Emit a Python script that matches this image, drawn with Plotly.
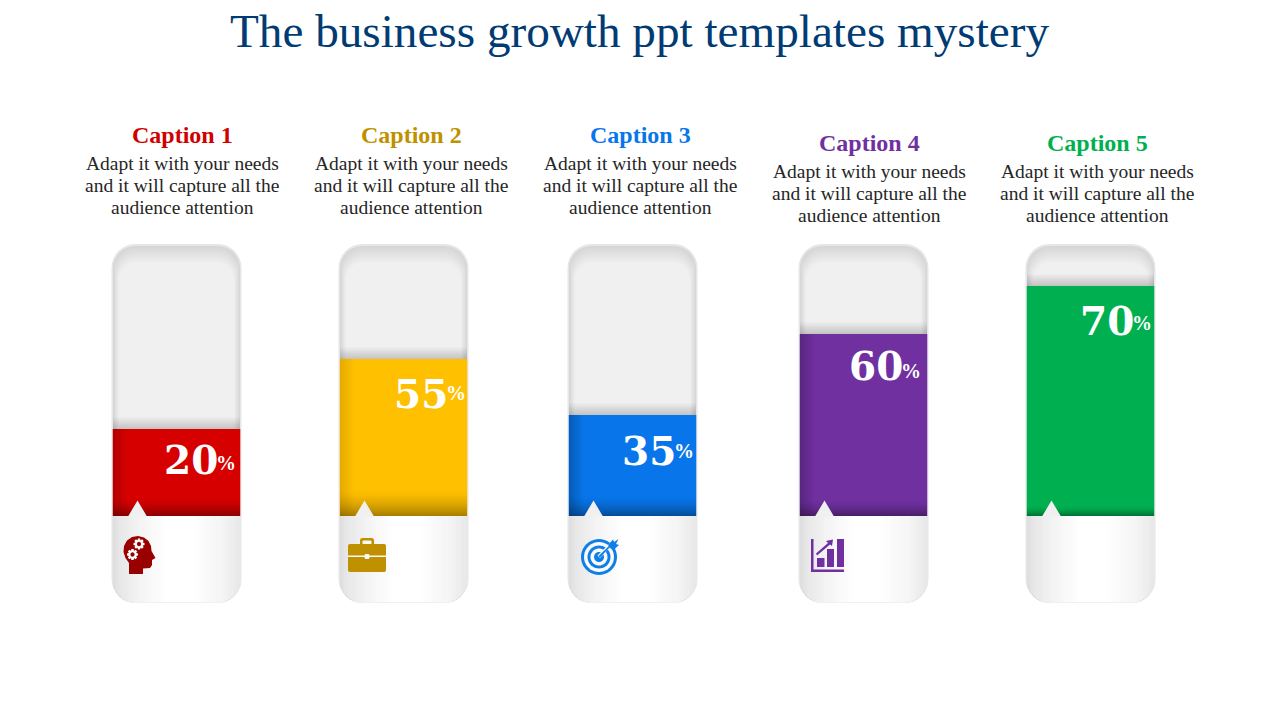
import numpy as np
import plotly.graph_objects as go

TITLE = "The business growth ppt templates mystery"
captions = ["Caption 1", "Caption 2", "Caption 3", "Caption 4", "Caption 5"]
body_lines = ["Adapt it with your needs", "and it will capture all the", "audience attention"]
percent_labels = ["20", "55", "35", "60", "70"]
# fill height of each tube (the drawn levels are not proportional to the labels)
fill_levels = [87, 157, 101, 182, 230]
colors = ["#D60000", "#FFC000", "#0876EA", "#7030A0", "#00B050"]
caption_colors = ["#D00000", "#BF9000", "#0876EA", "#7030A0", "#00B050"]
icon_colors = ["#990000", "#BF9000", "#0F7FE8", "#7030A0"]
tube_centers = [176.5, 403.5, 632.5, 863.5, 1090.5]
text_centers = [182, 411, 640, 869, 1097]
caption_y = [135, 135, 135, 143, 143]
number_right = [217, 447, 675, 902, 1133]
number_y = [460, 394, 451, 366, 321]
percent_y = [463, 393, 451, 371, 323]
left_shade = [0.16, 0.10, 0.22, 0.20, 0.0]
bottom_shade = [18, 26, 20, 16, 10]

BASE = 516
TUBE_W, TUBE_TOP, TUBE_BOT, R = 130, 244, 603, 24
SERIF, NUM = "Liberation Serif", "DejaVu Serif"


def Y(p):
    return BASE - p


def poly(pts):
    return "M " + " L ".join(f"{x:.2f},{Y(y):.2f}" for x, y in pts) + " Z"


def circle(cx, cy, r, n=40):
    a = np.linspace(0, 2 * np.pi, n, endpoint=False)
    return [(cx + r * np.cos(t), cy + r * np.sin(t)) for t in a]


def rrect(x0, y0, x1, y1, r):
    pts = []
    for cx, cy, a0 in [(x1 - r, y0 + r, -90), (x1 - r, y1 - r, 0), (x0 + r, y1 - r, 90), (x0 + r, y0 + r, 180)]:
        for a in np.radians(np.linspace(a0, a0 + 90, 9)):
            pts.append((cx + r * np.cos(a), cy + r * np.sin(a)))
    return pts


shapes = []


def add_path(pts, color, layer="above"):
    shapes.append(dict(type="path", path=poly(pts), fillcolor=color, line_width=0, layer=layer, xref="x", yref="y"))


def add_rect(x0, y0, x1, y1, color, layer="above"):
    shapes.append(dict(type="rect", x0=x0, x1=x1, y0=Y(y0), y1=Y(y1), fillcolor=color, line_width=0,
                       layer=layer, xref="x", yref="y"))


def grey(v):
    v = int(round(v))
    return f"rgb({v},{v},{v})"


def panel_grey(f):
    xs = [0, 0.06, 0.2, 0.42, 0.62, 0.85, 1]
    vs = [222, 232, 243, 255, 255, 245, 232]
    return float(np.interp(f, xs, vs))


def gear(cx, cy, r, color):
    pts = []
    for i in range(8):
        a = i * np.pi / 4
        for da, rr in [(-0.36, r * 0.72), (-0.2, r), (0.2, r), (0.36, r * 0.72)]:
            pts.append((cx + rr * np.cos(a + da), cy + rr * np.sin(a + da)))
    add_path(pts, "#FFFFFF")
    add_path(circle(cx, cy, r * 0.38, 16), color)


def icon_head(c):
    skull = [(129, 574), (129, 563), (125.5, 558), (123.5, 552), (124, 546), (127, 540.5), (132, 537), (138, 536),
             (144, 537.5), (148.5, 541), (151, 546), (151.5, 551), (155.5, 558), (152, 560), (152, 565), (150, 568),
             (143, 568.5), (143, 574)]
    add_path(skull, c)
    gear(139, 544, 5.6, c)
    gear(132.5, 554.5, 5.6, c)


def icon_case(c):
    add_path(rrect(360, 538, 374, 548, 2.5), c)
    add_path(rrect(362.5, 540.5, 371.5, 548, 1), "#F8F8F8")
    add_path(rrect(348, 544, 386, 572, 2), c)
    add_rect(348, 555.5, 386, 557, "#F8F8F8")
    add_path(rrect(364.5, 554, 369.5, 559, 1.5), "#F8F8F8")


def icon_target(c):
    cx, cy = 599, 557
    for r, col in [(18, c), (15, "#FAFAFA"), (11.5, c), (8.5, "#FAFAFA"), (5, c)]:
        add_path(circle(cx, cy, r), col)
    add_path([(597.5, 555.5), (610, 543), (612, 545), (600, 558)], "#FAFAFA")
    add_path([(598.5, 556), (611, 544), (612, 545), (600, 557.5)], c)
    add_path([(608, 545), (613, 539.5), (614, 542), (618.5, 539), (616, 544), (619, 545), (613.5, 550), (610, 548)], c)


def icon_bars(c):
    add_rect(811, 539, 813.5, 572, c)
    add_rect(811, 569.5, 844, 572, c)
    add_rect(817, 558, 824.5, 567, c)
    add_rect(827, 549, 834, 567, c)
    add_rect(837, 539, 844, 567, c)
    add_path([(816, 553.5), (828, 543), (826, 541), (833, 539.5), (832, 546), (830, 544.5), (817, 555.5)], c)


icon_fns = [icon_head, icon_case, icon_target, icon_bars]

for i, cx in enumerate(tube_centers):
    x0, x1 = cx - TUBE_W / 2, cx + TUBE_W / 2
    # tube body: border and inner shadow as nested rounded rectangles
    add_path(rrect(x0, TUBE_TOP, x1, TUBE_BOT, R), "#E6E6E6", "below")
    steps = 14
    for k in range(steps):
        f = k / (steps - 1)
        ins_side = 1.5 + 6 * f
        ins_top = 2 + 17 * f
        add_path(rrect(x0 + ins_side, TUBE_TOP + ins_top, x1 - ins_side, TUBE_BOT, max(R - ins_side, 6)),
                 grey(214 + 26 * f), "below")
    top = BASE - fill_levels[i]
    # soft shadow above the fill
    for k in range(12):
        add_rect(x0 + 1.5, top - 12 + k, x1 - 1.5, top - 11 + k, f"rgba(0,0,0,{0.18 * (k + 1) / 12:.3f})", "below")
    # darkening inside the fill
    if left_shade[i] > 0:
        for k in range(14):
            add_rect(x0 + 1.5 + k, top, x0 + 2.5 + k, BASE, f"rgba(0,0,0,{left_shade[i] * (1 - k / 14):.3f})")
    h = bottom_shade[i]
    for k in range(h):
        a = 0.34 * ((k + 1) / h) ** 1.6
        add_rect(x0 + 1.5, BASE - h + k, x1 - 1.5, BASE - h + 1 + k, f"rgba(0,0,0,{a:.3f})")
    # lower panel with a horizontal gradient and rounded corners
    px0, px1 = x0 + 1.5, x1 - 1
    n = 64
    xs = np.linspace(px0, px1, n + 1)
    rin = R - 1.5
    bot = TUBE_BOT - 1
    for a, b in zip(xs[:-1], xs[1:]):
        m = (a + b) / 2
        d = max(px0 + rin - m, m - (px1 - rin), 0)
        yb = bot - rin + np.sqrt(max(rin ** 2 - d ** 2, 0))
        add_rect(a, BASE, b + 0.3, yb, grey(panel_grey((m - px0) / (px1 - px0))))
    # pointer
    tx = x0 + 26
    add_path([(tx - 9.5, BASE + 0.5), (tx, BASE - 15.5), (tx + 9.5, BASE + 0.5)], "#F0F0F0")
    if i < len(icon_fns):
        icon_fns[i](icon_colors[i])

annotations = []


def label(x, py, text, size, color, family=SERIF, anchor="center"):
    annotations.append(dict(x=x, y=Y(py), xref="x", yref="y", text=text, showarrow=False, xanchor=anchor,
                            yanchor="middle", align=anchor, borderpad=0, borderwidth=0,
                            font=dict(family=family, size=size, color=color)))


label(640, 31, TITLE, 47.2, "#003B73")
for i, cap in enumerate(captions):
    label(text_centers[i], caption_y[i], f"<b>{cap}</b>", 24, caption_colors[i])
    for j, line in enumerate(body_lines):
        label(text_centers[i], caption_y[i] + 28 + 22 * j, line, 19.5, "#262626")
    label(number_right[i] + 1, number_y[i], f"<b>{percent_labels[i]}</b>", 39, "#FFFFFF", NUM, "right")
    label(number_right[i] - 1, percent_y[i], "<b>%</b>", 20, "#FFFFFF", SERIF, "left")

fig = go.Figure(go.Bar(x=tube_centers, y=fill_levels, width=127.5, marker=dict(color=colors, line_width=0),
                       hoverinfo="skip"))
fig.update_layout(
    width=1280, height=720, margin=dict(l=0, r=0, t=0, b=0), paper_bgcolor="#FFFFFF", plot_bgcolor="rgba(0,0,0,0)",
    xaxis=dict(range=[0, 1280], visible=False, fixedrange=True),
    yaxis=dict(range=[BASE - 720, BASE], visible=False, fixedrange=True),
    showlegend=False, shapes=shapes, annotations=annotations,
)
fig.write_html("out.html", config=dict(displayModeBar=False),
               post_script="document.body.style.margin='0';document.body.style.overflow='hidden';")
